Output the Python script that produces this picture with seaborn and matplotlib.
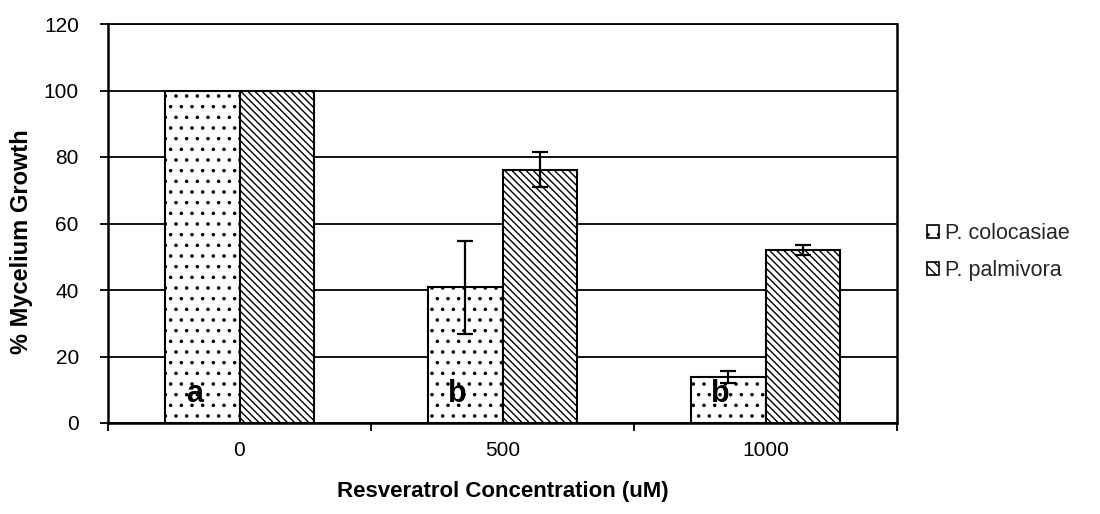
import matplotlib
matplotlib.use("Agg")
import matplotlib.pyplot as plt
from matplotlib.patches import Patch
import seaborn as sns
import pandas as pd

categories = ["0", "500", "1000"]
series_names = ["P. colocasiae", "P. palmivora"]
colocasiae = [100, 40.8, 13.8]
colocasiae_err = [0, 14.0, 1.7]
palmivora = [100, 76.2, 52.0]
palmivora_err = [0, 5.2, 1.5]
letters = ["a", "b", "b"]
y_ticks = [0, 20, 40, 60, 80, 100, 120]

DPI = 128
S = 100 / DPI  # scale so sizes below are expressed as at 100 dpi

sns.set_theme(style="white")
plt.rcParams["font.family"] = ["Liberation Sans", "DejaVu Sans"]
plt.rcParams["hatch.linewidth"] = 1.0 * S
plt.rcParams["hatch.color"] = "black"

df = pd.DataFrame({
    "conc": categories * 2,
    "series": [series_names[0]] * 3 + [series_names[1]] * 3,
    "value": colocasiae + palmivora,
})

fig = plt.figure(figsize=(1100 / DPI, 514 / DPI), dpi=DPI)
ax = fig.add_axes([108 / 1100, 1 - 423 / 514, (897 - 108) / 1100, (423 - 24) / 514])

sns.barplot(data=df, x="conc", y="value", hue="series", order=categories,
            hue_order=series_names, width=0.57, gap=0, errorbar=None,
            palette=["white", "white"], edgecolor="black", linewidth=1.5 * S,
            saturation=1, legend=False, ax=ax, zorder=3)

hatches = ["..", "\\\\\\\\\\\\"]
nb = len(categories)
for i, p in enumerate(ax.patches[:2 * nb]):
    p.set_hatch(hatches[i // nb])
    p.set_facecolor("white")
    p.set_edgecolor("black")

errs = [colocasiae_err, palmivora_err]
vals = [colocasiae, palmivora]
for s in range(2):
    for j in range(nb):
        p = ax.patches[s * nb + j]
        xc = p.get_x() + p.get_width() / 2
        if errs[s][j] > 0:
            ax.errorbar(xc, vals[s][j], yerr=errs[s][j], fmt="none", ecolor="black",
                        elinewidth=1.6 * S, capsize=5.5 * S, capthick=1.6 * S, zorder=5)
        if s == 0:
            ax.text(xc - 0.03, 6.3, letters[j], ha="center", va="baseline",
                    fontsize=22 * S, fontweight="bold", color="black", zorder=6)

ax.set_ylim(0, 120)
ax.set_xlim(-0.5, 2.5)
ax.set_yticks(y_ticks)
ax.set_yticklabels([str(v) for v in y_ticks])
ax.yaxis.grid(True, color="black", linewidth=1.3 * S, zorder=0)
ax.set_axisbelow(True)
ax.xaxis.grid(False)

ax.set_xticks(range(nb))
ax.set_xticklabels(categories)
ax.set_xticks([-0.5, 0.5, 1.5, 2.5], minor=True)
ax.tick_params(axis="x", which="major", length=0, pad=13 * S, labelsize=15 * S, colors="black")
ax.tick_params(axis="x", which="minor", length=6 * S, width=1.3 * S, direction="out",
               bottom=True, color="black")
ax.tick_params(axis="y", which="major", length=6 * S, width=1.3 * S, direction="out", left=True,
               labelsize=15 * S, colors="black", pad=15 * S)

for side in ["left", "bottom", "right", "top"]:
    ax.spines[side].set_visible(True)
    ax.spines[side].set_color("black")
    ax.spines[side].set_linewidth(1.8 * S)
ax.spines["top"].set_linewidth(1.3 * S)

ax.set_xlabel("Resveratrol Concentration (uM)", fontsize=16 * S, fontweight="bold",
              labelpad=15 * S, color="black")
ax.set_ylabel("% Mycelium Growth", fontsize=17 * S, fontweight="bold", color="black")
ax.yaxis.set_label_coords((33 - 108) / 789, (423 - 242) / 399)

handles = [Patch(facecolor="white", edgecolor="black", hatch=hatches[0], linewidth=1.2 * S),
           Patch(facecolor="white", edgecolor="black", hatch="\\\\\\\\", linewidth=1.2 * S)]
fig.legend(handles, series_names, loc="center left", bbox_to_anchor=(927 / 1100, 1 - 252 / 514),
           frameon=False, prop={"size": 15.5 * S}, handlelength=0.55, handleheight=0.55,
           handletextpad=0.3, labelspacing=0.75, borderaxespad=0, borderpad=0)

fig.savefig("out.png", dpi=DPI)
